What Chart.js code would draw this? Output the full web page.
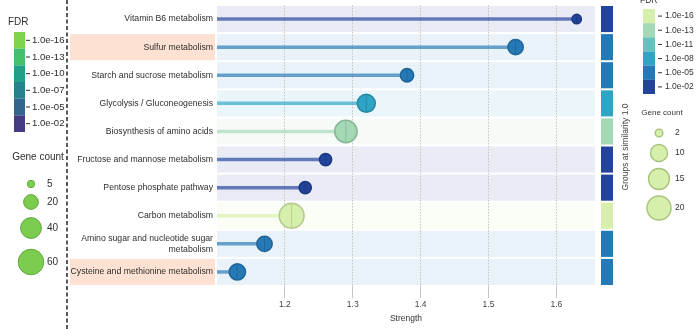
<!DOCTYPE html>
<html>
<head>
<meta charset="utf-8">
<script src="https://cdn.jsdelivr.net/npm/chart.js@4.4.0/dist/chart.umd.min.js"></script>
<style>
  html, body { margin: 0; padding: 0; background: #fff; }
  canvas { display: block; }
</style>
</head>
<body>
<canvas id="strength-chart" width="696" height="329"></canvas>
<script>
const pathways = [
    'Vitamin B6 metabolism',
    'Sulfur metabolism',
    'Starch and sucrose metabolism',
    'Glycolysis / Gluconeogenesis',
    'Biosynthesis of amino acids',
    'Fructose and mannose metabolism',
    'Pentose phosphate pathway',
    'Carbon metabolism',
    'Amino sugar and nucleotide sugar\nmetabolism',
    'Cysteine and methionine metabolism'
];
const strength = [1.63, 1.54, 1.38, 1.32, 1.29, 1.26, 1.23, 1.21, 1.17, 1.13];
const geneCount = [3, 8, 6, 11, 17, 5, 5, 21, 8, 9];
const fdr = [5e-3, 2e-6, 3e-6, 5e-9, 4e-14, 4e-3, 6e-3, 1e-16, 2e-6, 3e-6];
const highlighted = ['Sulfur metabolism', 'Cysteine and methionine metabolism'];
const xTicks = [1.2, 1.3, 1.4, 1.5, 1.6];

// colour key and size key for this plot
const fdrLabels = ['1.0e-16', '1.0e-13', '1.0e-11', '1.0e-08', '1.0e-05', '1.0e-02'];
const fdrColors = ['#d7efac', '#a3dab5', '#65c3be', '#2fa5c6', '#2679b7', '#23449b'];
const countKey = [2, 10, 15, 20];

// the older key still sitting on the left
const oldFdrLabels = ['1.0e-16', '1.0e-13', '1.0e-10', '1.0e-07', '1.0e-05', '1.0e-02'];
const oldFdrColors = ['#7ed34f', '#45bf6e', '#21a087', '#26838e', '#32668e', '#453a84'];
const oldCountKey = [5, 20, 40, 60];

const FONT = '"Liberation Sans", Arial, sans-serif';
const X_MIN = 1.1, X_MAX = 1.657;

function rgb(hex) {
    const n = parseInt(hex.slice(1), 16);
    return [(n >> 16) & 255, (n >> 8) & 255, n & 255];
}
function tint(hex, k) {
    const c = rgb(hex).map(v => Math.round(255 + (v - 255) * k));
    return `rgb(${c.join(',')})`;
}
function shade(hex, k) {
    const c = rgb(hex).map(v => Math.round(v * (1 - k)));
    return `rgb(${c.join(',')})`;
}
function alpha(hex, a) {
    return `rgba(${rgb(hex).join(',')},${a})`;
}
function fdrColor(p) {
    const e = -Math.log10(p);
    const exps = fdrLabels.map(l => -Math.log10(parseFloat(l)));
    let best = 0;
    exps.forEach((le, i) => {
        if (Math.abs(le - e) < Math.abs(exps[best] - e)) best = i;
    });
    return fdrColors[best];
}
const radius = n => 2.7 * Math.sqrt(n);
const oldRadius = n => 1.65 * Math.sqrt(n);

const rowColors = fdr.map(fdrColor);

// stems: one short line per pathway, from the axis start to its strength
const stemSets = strength.map((v, i) => ({
    data: [{ x: X_MIN, y: i }, { x: v, y: i }],
    showLine: true,
    borderColor: alpha(rowColors[i], 0.68),
    borderWidth: 3.5,
    pointRadius: 0,
    pointHoverRadius: 0
}));

const dotSet = {
    data: strength.map((v, i) => ({ x: v, y: i })),
    pointRadius: geneCount.map(radius),
    pointHoverRadius: geneCount.map(radius),
    backgroundColor: rowColors,
    borderColor: rowColors.map(c => shade(c, 0.16)),
    borderWidth: 1.6
};

const tickSet = {
    data: strength.map((v, i) => ({ x: v, y: i })),
    pointStyle: 'line',
    rotation: 90,
    pointRadius: geneCount.map(n => radius(n) * 0.9),
    borderColor: rowColors.map(c => shade(c, 0.18)),
    borderWidth: 0.8
};

const decor = {
    id: 'decor',
    beforeDraw(chart) {
        const { ctx, chartArea: a, scales: { y } } = chart;
        const half = (y.getPixelForValue(1) - y.getPixelForValue(0)) / 2 - 1;
        ctx.save();
        pathways.forEach((p, i) => {
            const yc = y.getPixelForValue(i);
            ctx.fillStyle = tint(rowColors[i], 0.1);
            ctx.fillRect(a.left, yc - half, a.right - a.left, half * 2);
            if (highlighted.includes(p)) {
                ctx.fillStyle = '#fde2d3';
                ctx.fillRect(70, yc - half, a.left - 72, half * 2);
            }
            ctx.fillStyle = rowColors[i];
            ctx.fillRect(a.right + 6, yc - half, 12, half * 2);

            ctx.fillStyle = '#2e2e2e';
            ctx.font = `8.7px ${FONT}`;
            ctx.textAlign = 'right';
            ctx.textBaseline = 'middle';
            const lines = p.split('\n');
            lines.forEach((t, k) => {
                ctx.fillText(t, a.left - 4, yc + (k - (lines.length - 1) / 2) * 11);
            });
        });
        ctx.restore();
    },
    afterDraw(chart) {
        const { ctx } = chart;
        ctx.save();

        // dashed divider
        ctx.strokeStyle = '#222';
        ctx.lineWidth = 1.5;
        ctx.setLineDash([4, 2.5]);
        ctx.beginPath();
        ctx.moveTo(67, 0);
        ctx.lineTo(67, 329);
        ctx.stroke();
        ctx.setLineDash([]);

        // left key
        ctx.fillStyle = '#2e2e2e';
        ctx.font = `10px ${FONT}`;
        ctx.textAlign = 'left';
        ctx.textBaseline = 'middle';
        ctx.fillText('FDR', 8, 22);
        const bh = 100 / oldFdrColors.length;
        oldFdrColors.forEach((c, i) => {
            ctx.fillStyle = c;
            ctx.fillRect(14, 32 + i * bh, 11, bh);
            ctx.fillStyle = '#2e2e2e';
            ctx.fillRect(26, 32 + i * bh + bh / 2 - 0.5, 4, 1);
            ctx.font = `9.6px ${FONT}`;
            ctx.fillText(oldFdrLabels[i], 32, 32 + i * bh + bh / 2);
        });
        ctx.font = `10px ${FONT}`;
        ctx.textAlign = 'center';
        ctx.fillText('Gene count', 38, 157);
        const oldY = [184, 202, 228, 262];
        oldCountKey.forEach((n, i) => {
            ctx.beginPath();
            ctx.arc(31, oldY[i], oldRadius(n), 0, Math.PI * 2);
            ctx.fillStyle = '#7ccd4f';
            ctx.fill();
            ctx.strokeStyle = '#63a83f';
            ctx.lineWidth = 1;
            ctx.stroke();
            ctx.fillStyle = '#2e2e2e';
            ctx.textAlign = 'left';
            ctx.font = `10px ${FONT}`;
            ctx.fillText(String(n), 47, oldY[i]);
        });

        // right key
        ctx.fillStyle = '#333';
        ctx.font = `8.5px ${FONT}`;
        ctx.textAlign = 'left';
        ctx.textBaseline = 'alphabetic';
        ctx.fillText('FDR', 640, 2.5);
        ctx.textBaseline = 'middle';
        const rh = 85 / fdrColors.length;
        fdrColors.forEach((c, i) => {
            ctx.fillStyle = c;
            ctx.fillRect(643, 9 + i * rh, 12, rh);
            ctx.fillStyle = '#333';
            ctx.fillRect(658, 9 + i * rh + rh / 2 - 0.5, 4, 1);
            ctx.font = `8.5px ${FONT}`;
            ctx.fillText(fdrLabels[i], 665, 9 + i * rh + rh / 2);
        });
        ctx.font = `8px ${FONT}`;
        ctx.textAlign = 'center';
        ctx.fillText('Gene count', 662, 113);
        const keyY = [133, 153, 179, 208];
        countKey.forEach((n, i) => {
            ctx.beginPath();
            ctx.arc(659, keyY[i], radius(n), 0, Math.PI * 2);
            ctx.fillStyle = '#d7efac';
            ctx.fill();
            ctx.strokeStyle = '#a8c47c';
            ctx.lineWidth = 1.4;
            ctx.stroke();
            ctx.fillStyle = '#333';
            ctx.textAlign = 'left';
            ctx.font = `8.5px ${FONT}`;
            ctx.fillText(String(n), 675, keyY[i]);
        });

        // vertical caption for the group strip
        ctx.translate(626, 147);
        ctx.rotate(-Math.PI / 2);
        ctx.textAlign = 'center';
        ctx.fillStyle = '#444';
        ctx.font = `8.5px ${FONT}`;
        ctx.fillText('Groups at similarity 1.0', 0, 0);
        ctx.restore();
    }
};

new Chart(document.getElementById('strength-chart'), {
    type: 'scatter',
    data: { datasets: [tickSet, dotSet, ...stemSets] },
    options: {
        responsive: false,
        animation: false,
        layout: { autoPadding: false, padding: { left: 217, right: 101, top: 5, bottom: 0 } },
        plugins: {
            legend: { display: false },
            tooltip: { enabled: false }
        },
        scales: {
            x: {
                min: X_MIN,
                max: X_MAX,
                afterBuildTicks: scale => { scale.ticks = xTicks.map(v => ({ value: v })); },
                afterFit: scale => { scale.height = 43; },
                ticks: {
                    callback: v => v.toFixed(1),
                    font: { size: 8.5, family: FONT },
                    color: '#444',
                    padding: 2,
                    maxRotation: 0
                },
                grid: {
                    color: '#c4c4c4',
                    lineWidth: 1,
                    tickLength: 12,
                    drawOnChartArea: true
                },
                border: { display: false, dash: [1.5, 1.5] },
                title: {
                    display: true,
                    text: 'Strength',
                    font: { size: 8.5, family: FONT },
                    color: '#333',
                    padding: { top: 0, bottom: 5 }
                }
            },
            y: {
                display: false,
                reverse: true,
                min: -0.5,
                max: 9.5
            }
        }
    },
    plugins: [decor]
});
</script>
</body>
</html>
